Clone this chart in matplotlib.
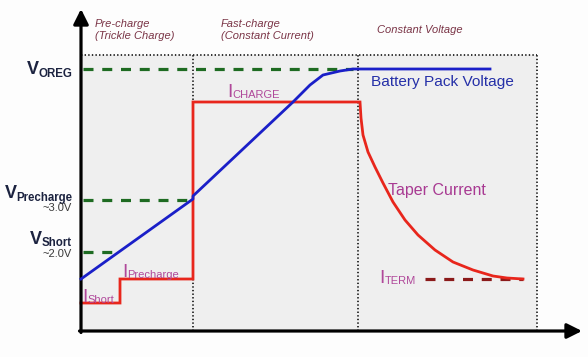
import matplotlib
matplotlib.use("Agg")
import matplotlib.pyplot as plt
from matplotlib.patches import Rectangle

plt.rcParams['font.family'] = ['Liberation Sans', 'DejaVu Sans']
plt.rcParams['lines.scale_dashes'] = False

# schematic time axis (0 = start of charge) and levels above the baseline
v_oreg = 262
v_precharge = 131
v_short = 79
i_short = 28
i_precharge = 52
i_charge = 229
i_term = 52

t_precharge_end = 112
t_cc_end = 277
t_end = 456
shade_top = 276

voltage_t = [0, 112, 112, 212, 229, 242, 259, 272, 409]
voltage = [52, 132, 135, 229, 246, 256, 260, 262, 262]

current_t = [0, 39, 39, 112, 112, 279, 280, 282, 287, 294, 302, 312, 324,
             337, 354, 372, 392, 412, 426, 442]
current = [28, 28, 52, 52, 229, 229, 213, 196, 179, 164, 148, 129, 111,
           96, 81, 69, 61, 55, 53, 52]

phase_names = ['Pre-charge\n(Trickle Charge)', 'Fast-charge\n(Constant Current)',
               'Constant Voltage']

fig = plt.figure(figsize=(5.88, 3.57), dpi=100)
fig.patch.set_facecolor('#fdfdfd')
ax = fig.add_axes([0, 0, 1, 1])
ax.set_xlim(-81, 507)
ax.set_ylim(-26, 331)
ax.axis('off')
renderer = fig.canvas.get_renderer()

# shaded charging window with dotted frame
ax.add_patch(Rectangle((0, 0), t_end, shade_top, facecolor='#efefef',
                       edgecolor='none', zorder=0))
dot = dict(color='#222222', lw=1.3, ls=(0, (1, 1.6)), zorder=1)
ax.plot([0, t_end], [shade_top, shade_top], **dot)
ax.plot([t_end, t_end], [0, shade_top], **dot)
ax.plot([t_precharge_end, t_precharge_end], [0, shade_top], **dot)
ax.plot([t_cc_end, t_cc_end], [0, shade_top], **dot)

# threshold dashes
green = '#1e6b22'
ax.plot([2, 272], [v_oreg, v_oreg], color=green, lw=2.3, dashes=(7.2, 6.3), zorder=2)
ax.plot([2, t_precharge_end], [v_precharge, v_precharge], color=green, lw=2.3,
        dashes=(7.2, 6.3), zorder=2)
ax.plot([2, 36], [v_short, v_short], color=green, lw=2.3, dashes=(7.2, 6.3), zorder=2)
ax.plot([344, 442], [i_term, i_term], color='#8b1a1a', lw=2.3,
        dashes=(7.2, 6.3), zorder=2)

# curves
ax.plot(current_t, current, color='#e8261c', lw=2.0, zorder=3,
        solid_joinstyle='miter')
ax.plot(voltage_t, voltage, color='#1a1fc8', lw=2.0, zorder=4)

# axes arrows
ax.annotate('', xy=(0, 322), xytext=(0, -1.5),
            arrowprops=dict(arrowstyle='-|>,head_length=0.9,head_width=0.45',
                            color='black', lw=2.3, shrinkA=0, shrinkB=0))
ax.annotate('', xy=(501, 0), xytext=(-1.5, 0),
            arrowprops=dict(arrowstyle='-|>,head_length=0.9,head_width=0.45',
                            color='black', lw=2.3, shrinkA=0, shrinkB=0))

# phase titles
phase_col = '#7a3446'
ax.text(14, 312, phase_names[0], fontsize=8, style='italic', color=phase_col,
        va='top', ha='left', linespacing=1.25)
ax.text(140, 312, phase_names[1], fontsize=8, style='italic', color=phase_col,
        va='top', ha='left', linespacing=1.25)
ax.text(296, 306, phase_names[2], fontsize=8, style='italic', color=phase_col,
        va='top', ha='left')


def width_of(txt):
    return txt.get_window_extent(renderer).width


# voltage labels: big bold V with bold subscript, right-aligned at the axis
navy = '#1c2340'


def v_label(sub, y_main, y_sub):
    s = ax.text(-9, y_sub, sub, fontsize=8.3, weight='bold', color=navy,
                ha='right', va='baseline')
    ax.text(-9 - width_of(s) + 0.5, y_main, 'V', fontsize=13, weight='bold',
            color=navy, ha='right', va='baseline')


v_label('OREG', 257, 254)
v_label('Precharge', 133, 130)
v_label('Short', 87, 85)
ax.text(-9, 123, '~3.0V', fontsize=8, color='#3a3a3a', ha='right', va='center')
ax.text(-9, 77, '~2.0V', fontsize=8, color='#3a3a3a', ha='right', va='center')

# current labels: I with subscript
pink = '#b0489a'


def i_label(x, sub, y_main, y_sub):
    m = ax.text(x, y_main, 'I', fontsize=14, color=pink, ha='left',
                va='baseline')
    ax.text(x + width_of(m), y_sub, sub, fontsize=8, color=pink, ha='left',
            va='baseline')


i_label(146, 'CHARGE', 234, 233)
i_label(41, 'Precharge', 54, 53)
i_label(1, 'Short', 29, 28)
i_label(298, 'TERM', 48, 47)

ax.text(290, 249, 'Battery Pack Voltage', fontsize=11.1, color='#2530a8',
        ha='left', va='center')
ax.text(307, 141, 'Taper Current', fontsize=11.5, color='#a83a92',
        ha='left', va='center')

fig.savefig('out.png', dpi=100, facecolor=fig.get_facecolor())
